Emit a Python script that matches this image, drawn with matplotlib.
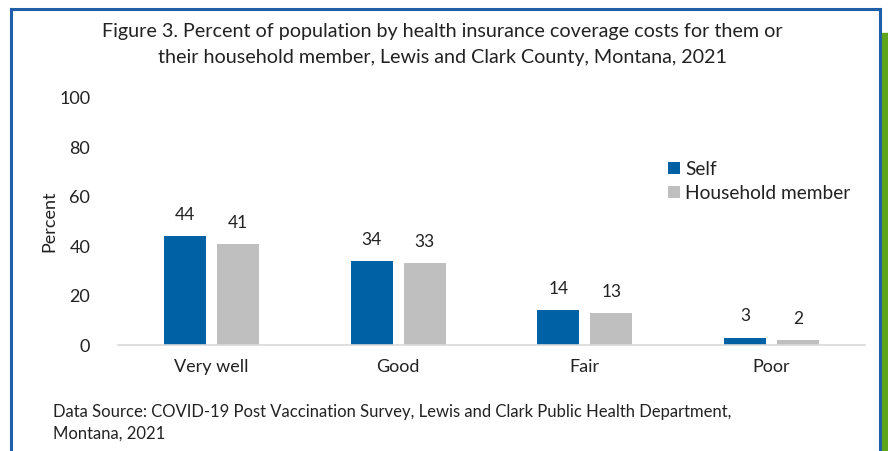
import matplotlib.pyplot as plt
import matplotlib.patches as mpatches
import numpy as np

categories = ["Very well", "Good", "Fair", "Poor"]
self_vals = [44, 34, 14, 3]
household_vals = [41, 33, 13, 2]
series_names = ["Self", "Household member"]
yticks = [0, 20, 40, 60, 80, 100]

BLUE = "#0062A4"
GRAY = "#BFBFBF"
FONT = "Lato"

plt.rcParams['font.family'] = [FONT, 'DejaVu Sans']

W, H = 888, 451
fig = plt.figure(figsize=(W/100, H/100), dpi=100)
fig.patch.set_facecolor("white")

# frame
fig.add_artist(plt.Line2D([11/W, 11/W], [0, 1 - 9/H], color="#1F5FA8", lw=2.2, transform=fig.transFigure))
fig.add_artist(plt.Line2D([11/W, 880/W], [1 - 9/H, 1 - 9/H], color="#1F5FA8", lw=2.2, transform=fig.transFigure))
fig.add_artist(plt.Line2D([880/W, 880/W], [0, 1 - 9/H], color="#1F5FA8", lw=2.2, transform=fig.transFigure))
fig.add_artist(mpatches.Rectangle((882/W, 0), 6/W, 1 - 33/H, color="#5EA51B", transform=fig.transFigure))

ax = fig.add_axes([118/W, 1 - 345/H, (865-118)/W, (345-98)/H])
x = np.arange(len(categories))
bw = 0.225
off = 0.142
b1 = ax.bar(x - off, self_vals, bw, color=BLUE, label=series_names[0])
b2 = ax.bar(x + off, household_vals, bw, color=GRAY, label=series_names[1])
for bars, vals in ((b1, self_vals), (b2, household_vals)):
    for r, v in zip(bars, vals):
        ax.annotate(str(v), (r.get_x() + r.get_width()/2, v), xytext=(0, 9.5),
                    textcoords="offset points", ha="center", va="bottom", fontsize=12.5, color="#222222")

ax.set_xlim(-0.5, 3.5)
ax.set_ylim(0, 100)
ax.set_yticks(yticks)
ax.set_xticks(x)
ax.set_xticklabels(categories)
ax.tick_params(axis="both", length=0, labelsize=13, colors="#222222")
ax.tick_params(axis="y", pad=20)
ax.tick_params(axis="x", pad=10)
for s in ["top", "right", "left"]:
    ax.spines[s].set_visible(False)
ax.spines["bottom"].set_color("#D9D9D9")
ax.spines["bottom"].set_linewidth(1.2)
ax.set_ylabel("Percent", fontsize=13, color="#222222", labelpad=1)

leg = ax.legend(loc="upper left", bbox_to_anchor=((660-118)/(865-118), 1 - (153-98)/(345-98)),
                frameon=False, fontsize=13.8, handlelength=0.62, handleheight=0.62,
                handletextpad=0.3, labelspacing=0.38, borderaxespad=0)
for t in leg.get_texts():
    t.set_color("#222222")

fig.text(442/W, 1 - 32/H, "Figure 3. Percent of population by health insurance coverage costs for them or",
         ha="center", va="center", fontsize=14.2, color="#222222")
fig.text(442/W, 1 - 58/H, "their household member, Lewis and Clark County, Montana, 2021",
         ha="center", va="center", fontsize=14.2, color="#222222")
fig.text(53/W, 1 - 412/H, "Data Source: COVID-19 Post Vaccination Survey, Lewis and Clark Public Health Department,",
         ha="left", va="center", fontsize=12, color="#222222")
fig.text(53/W, 1 - 434/H, "Montana, 2021", ha="left", va="center", fontsize=12, color="#222222")

fig.savefig("out.png", dpi=100)
